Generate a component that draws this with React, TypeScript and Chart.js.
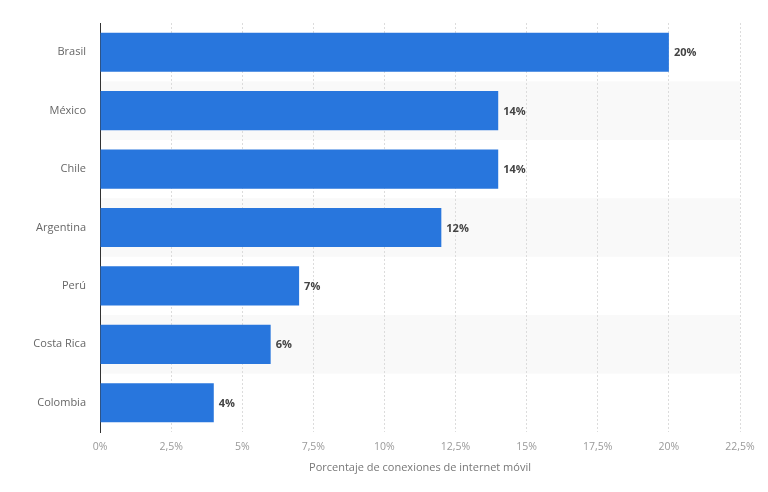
import React, { useEffect, useRef } from "react";
import { Chart, registerables } from "chart.js";

Chart.register(...registerables);

const categories = ["Brasil", "México", "Chile", "Argentina", "Perú", "Costa Rica", "Colombia"];
const values = [20, 14, 14, 12, 7, 6, 4];
const axisMin = 0;
const axisMax = 22.5;
const axisStep = 2.5;
const axisTitle = "Porcentaje de conexiones de internet móvil";

const FONT = "'Open Sans', 'DejaVu Sans', sans-serif";

const fmt = (v: number) => String(v).replace(".", ",") + "%";

const bandsPlugin = {
  id: "bands",
  beforeDraw(chart: any) {
    const { ctx, chartArea, scales } = chart;
    const y = scales.y;
    const n = categories.length;
    const h = (chartArea.bottom - chartArea.top) / n;
    ctx.save();
    ctx.fillStyle = "#f9f9f9";
    for (let i = 0; i < n; i++) {
      if (i % 2 === 1) {
        const c = y.getPixelForValue(i);
        ctx.fillRect(chartArea.left, c - h / 2, chartArea.right - chartArea.left, h);
      }
    }
    ctx.restore();
  },
};

const labelsPlugin = {
  id: "valueLabels",
  afterDatasetsDraw(chart: any) {
    const { ctx } = chart;
    const meta = chart.getDatasetMeta(0);
    ctx.save();
    ctx.font = `bold 11px ${FONT}`;
    ctx.fillStyle = "#444";
    ctx.textAlign = "left";
    ctx.textBaseline = "middle";
    meta.data.forEach((bar: any, i: number) => {
      ctx.fillText(fmt(values[i]), bar.x + 5, bar.y + 1);
    });
    ctx.restore();
  },
};

export default function App() {
  const ref = useRef<HTMLCanvasElement>(null);
  useEffect(() => {
    const chart = new Chart(ref.current!, {
      type: "bar",
      data: {
        labels: categories,
        datasets: [
          {
            data: values,
            backgroundColor: "#2876dd",
            borderWidth: 0,
            categoryPercentage: 1,
            barPercentage: 0.67,
          },
        ],
      },
      options: {
        indexAxis: "y",
        animation: false,
        responsive: true,
        maintainAspectRatio: false,
        layout: { padding: { top: 23, right: 28, bottom: 18, left: 0 } },
        plugins: { legend: { display: false }, tooltip: { enabled: false } },
        scales: {
          x: {
            min: axisMin,
            max: axisMax,
            ticks: {
              stepSize: axisStep,
              callback: (v: any) => fmt(Number(v)),
              color: "#999",
              font: { family: FONT, size: 10.5 },
              padding: 9,
              maxRotation: 0,
            },
            grid: { color: "#dcdcdc", drawTicks: false, lineWidth: 1 },
            border: { display: false, dash: [2, 2] },
            title: {
              display: true,
              text: axisTitle,
              color: "#777",
              font: { family: FONT, size: 11 },
              padding: 0,
            },
            afterFit: (s: any) => {
              s.height = 42;
            },
          },
          y: {
            ticks: {
              color: "#666",
              font: { family: FONT, size: 11 },
              padding: 14,
            },
            grid: { display: false, drawTicks: false },
            border: { display: true, color: "#333", width: 1 },
            afterFit: (s: any) => {
              s.width = 100;
            },
          },
        },
      },
      plugins: [bandsPlugin, labelsPlugin],
    });
    return () => chart.destroy();
  }, []);
  return (
    <div style={{ position: "fixed", left: 0, top: 0, width: 768, height: 492, background: "#fff" }}>
      <canvas ref={ref} />
    </div>
  );
}
